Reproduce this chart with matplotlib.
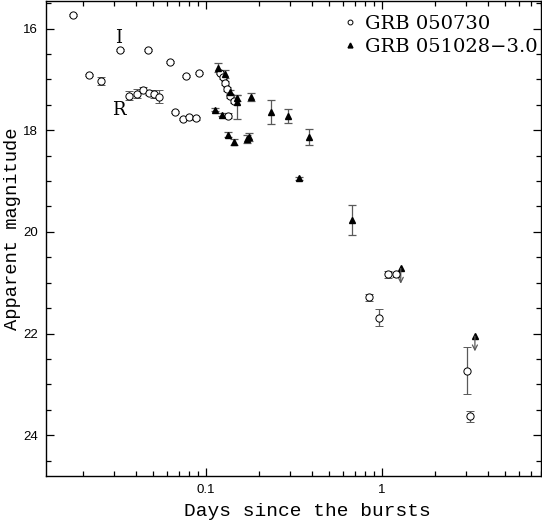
import numpy as np
import matplotlib
matplotlib.use("Agg")
import matplotlib.pyplot as plt
from matplotlib.lines import Line2D
from matplotlib.ticker import MultipleLocator, LogLocator, FixedLocator, NullFormatter

# GRB 050730 (open circles): days, magnitude, error
grb1_t = [0.0174, 0.0216, 0.0251, 0.0326, 0.0470, 0.0624, 0.0767, 0.0916,
          0.0364, 0.0402, 0.0437, 0.0474, 0.0508, 0.0543, 0.0664, 0.0738, 0.0804, 0.0877,
          0.120, 0.125, 0.128, 0.132, 0.137, 0.144, 0.134,
          1.086, 1.196, 0.844, 0.961, 3.05, 3.16]
grb1_mag = [15.73, 16.92, 17.03, 16.42, 16.42, 16.66, 16.94, 16.87,
            17.32, 17.28, 17.21, 17.27, 17.28, 17.34, 17.64, 17.78, 17.74, 17.77,
            16.87, 16.95, 17.07, 17.19, 17.32, 17.42, 17.72,
            20.83, 20.83, 21.29, 21.69, 22.73, 23.63]
grb1_err = [0.02, 0.02, 0.085, 0.02, 0.02, 0.02, 0.02, 0.02,
            0.085, 0.085, 0.05, 0.03, 0.08, 0.13, 0.02, 0.02, 0.02, 0.02,
            0.03, 0.04, 0.04, 0.04, 0.04, 0.04, 0.05,
            0.07, 0.05, 0.07, 0.17, 0.46, 0.10]

# GRB 051028 shifted by -3.0 mag (filled triangles)
grb2_t = [0.117, 0.128, 0.136, 0.149, 0.149, 0.180, 0.112, 0.123, 0.134, 0.145,
          0.172, 0.176, 0.234, 0.291, 0.386, 0.339, 0.673]
grb2_mag = [16.77, 16.90, 17.25, 17.36, 17.45, 17.34, 17.60, 17.70, 18.09, 18.23,
            18.17, 18.14, 17.65, 17.72, 18.13, 18.95, 19.77]
grb2_err_lo = [0.09, 0.08, 0.05, 0.06, 0.14, 0.08, 0.03, 0.03, 0.05, 0.06,
               0.08, 0.08, 0.235, 0.13, 0.16, 0.03, 0.30]
grb2_err_hi = [0.09, 0.08, 0.05, 0.06, 0.33, 0.08, 0.03, 0.03, 0.05, 0.06,
               0.08, 0.08, 0.235, 0.13, 0.16, 0.03, 0.30]

# GRB 051028 upper limits
lim_t = [1.28, 3.38]
lim_mag = [20.72, 22.05]

band_labels = [("I", 0.0318, 16.18), ("R", 0.0320, 17.60)]
legend_labels = ["GRB 050730", "GRB 051028\u22123.0"]

fig = plt.figure(figsize=(5.42, 5.23), dpi=100)
ax = fig.add_axes([0.085, 0.09, 0.9126, 0.908])

ebar_col = "0.35"
ax.errorbar(grb1_t, grb1_mag, yerr=grb1_err, fmt="o", ms=5.2, mfc="white", mec="black",
            mew=0.7, ecolor=ebar_col, elinewidth=0.9, capsize=3, capthick=0.9, zorder=3)
ax.errorbar(grb2_t, grb2_mag, yerr=[grb2_err_lo, grb2_err_hi], fmt="^", ms=4.8,
            mfc="black", mec="black", ecolor=ebar_col, elinewidth=0.9, capsize=3,
            capthick=0.9, zorder=3)

# upper limits: triangle + downward arrow
ax.plot(lim_t, lim_mag, "^", ms=4.8, color="black", zorder=3)
for t, m in zip(lim_t, lim_mag):
    ax.annotate("", xy=(t, m + 0.3), xytext=(t, m),
                arrowprops=dict(arrowstyle="->", color=ebar_col, lw=0.9,
                                shrinkA=0, shrinkB=0, mutation_scale=9))

for txt, t, m in band_labels:
    ax.text(t, m, txt, family="DejaVu Serif", fontsize=13, ha="center", va="center")

ax.set_xscale("log")
ax.set_xlim(0.0123, 8.0)
ax.set_ylim(24.8, 15.46)

ax.xaxis.set_major_locator(FixedLocator([0.1, 1]))
ax.set_xticklabels(["0.1", "1"])
ax.xaxis.set_minor_locator(LogLocator(base=10, subs=np.arange(2, 10)))
ax.xaxis.set_minor_formatter(NullFormatter())
ax.yaxis.set_major_locator(MultipleLocator(2))
ax.yaxis.set_minor_locator(MultipleLocator(0.5))

ax.tick_params(which="both", direction="in", top=True, right=True,
               labelsize=9.5, pad=6)
ax.tick_params(which="major", length=6, width=0.9)
ax.tick_params(which="minor", length=3.5, width=0.9)
for lab in ax.get_xticklabels() + ax.get_yticklabels():
    lab.set_family("Liberation Sans")
for sp in ax.spines.values():
    sp.set_linewidth(1.0)

ax.set_xlabel("Days since the bursts", family="Liberation Mono", fontsize=14)
ax.set_ylabel("Apparent magnitude", family="Liberation Mono", fontsize=13.5)
ax.xaxis.set_label_coords(0.528, -0.058)
ax.yaxis.set_label_coords(-0.05, 0.52)

handles = [Line2D([], [], ls="none", marker="o", ms=3.5, mfc="white", mec="black", mew=0.7),
           Line2D([], [], ls="none", marker="^", ms=3.5, mfc="black", mec="black")]
ax.legend(handles, legend_labels, loc="upper left", bbox_to_anchor=(0.575, 1.0),
          frameon=False, prop={"family": "DejaVu Serif", "size": 14}, handlelength=0.6,
          handletextpad=0.5, labelspacing=0.25, borderaxespad=0.3)

fig.savefig("out.png", dpi=100)
